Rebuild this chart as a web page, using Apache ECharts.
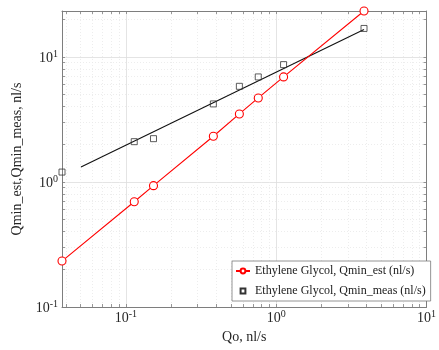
<!DOCTYPE html>
<html>
<head>
<meta charset="utf-8">
<script src="https://cdn.jsdelivr.net/npm/echarts@6/dist/echarts.min.js"></script>
<style>
  html, body { margin: 0; padding: 0; background: #fff; }
  #chart { width: 439px; height: 350px; }
</style>
</head>
<body>
<div id="chart"></div>
<script>
// Flow data, nl/s
const qo       = [0.0376, 0.1137, 0.1527, 0.382, 0.569, 0.760, 1.12, 3.84];
const qminEst  = [0.233, 0.695, 0.934, 2.32, 3.50, 4.70, 6.92, 23.3];
const qminMeas = [1.20, 2.10, 2.22, 4.21, 5.82, 6.92, 8.68, 16.9];
// power-law fit through the measured points
const fitQo   = [0.0503, 3.84];
const fitQmin = [1.32, 16.6];

const xMajor = [0.1, 1, 10];
const yMajor = [0.1, 1, 10];
const xRange = [0.0376, 10];
const yRange = [0.1, 23.3];

const FONT = '"Liberation Serif", "Times New Roman", serif';
const AXIS_COLOR = '#7e7e7e';
const TEXT_COLOR = '#262626';

// 1..9 x 10^e values that fall inside [lo, hi]
function logTicks(lo, hi) {
  const out = [];
  for (let e = -3; e <= 3; e++) {
    for (let m = 1; m <= 9; m++) {
      const v = +(m * Math.pow(10, e)).toPrecision(6);
      if (v >= lo * 0.9999 && v <= hi * 1.0001) out.push(v);
    }
  }
  return out;
}

function powLabel(v) {
  const e = Math.round(Math.log10(v));
  return '{b|10}{s|' + e + '}';
}

const labelRich = {
  b: { fontFamily: FONT, fontSize: 14, color: TEXT_COLOR, lineHeight: 16, verticalAlign: 'bottom' },
  s: { fontFamily: FONT, fontSize: 10, color: TEXT_COLOR, lineHeight: 16, verticalAlign: 'bottom', padding: [0, 0, 6, 0] }
};

function frameAxis(kind, pos, range, major, withLabels) {
  const allTicks = logTicks(range[0], range[1]);
  return {
    type: 'log',
    logBase: 10,
    position: pos,
    min: range[0],
    max: range[1],
    axisLine: { show: true, onZero: false, lineStyle: { color: AXIS_COLOR, width: 1 } },
    axisTick: { show: true, inside: true, length: 3, customValues: allTicks, lineStyle: { color: AXIS_COLOR, width: 0.8 } },
    minorTick: { show: false },
    axisLabel: withLabels ? {
      show: true,
      customValues: major,
      formatter: powLabel,
      rich: labelRich,
      margin: kind === 'x' ? 2 : 4,
      hideOverlap: false
    } : { show: false },
    splitLine: { show: false }
  };
}

function gridAxis(pos, range, values, style) {
  return {
    type: 'log',
    logBase: 10,
    position: pos,
    min: range[0],
    max: range[1],
    axisLine: { show: false },
    axisTick: { show: false, customValues: values },
    axisLabel: { show: false },
    splitLine: { show: true, lineStyle: style }
  };
}

const xMinor = logTicks(xRange[0], xRange[1]).filter(v => xMajor.indexOf(v) < 0);
const yMinor = logTicks(yRange[0], yRange[1]).filter(v => yMajor.indexOf(v) < 0);
const minorStyle = { color: '#e8e8e8', width: 0.8, type: [1, 2] };
const majorStyle = { color: '#dddddd', width: 0.8, type: 'solid' };

const xBottom = frameAxis('x', 'bottom', xRange, xMajor, true);
xBottom.name = 'Qo, nl/s';
xBottom.nameLocation = 'middle';
xBottom.nameGap = 23;
xBottom.nameTextStyle = { fontFamily: FONT, fontSize: 14, color: TEXT_COLOR };

const yLeft = frameAxis('y', 'left', yRange, yMajor, true);
yLeft.name = 'Qmin_est,Qmin_meas, nl/s';
yLeft.nameLocation = 'middle';
yLeft.nameGap = 31;
yLeft.nameRotate = 90;
yLeft.nameTextStyle = { fontFamily: FONT, fontSize: 14, color: TEXT_COLOR };

const estName = 'Ethylene Glycol, Qmin_est (nl/s)';
const measName = 'Ethylene Glycol, Qmin_meas (nl/s)';

const option = {
  backgroundColor: '#ffffff',
  animation: false,
  grid: { left: 62, right: 3, top: 11, bottom: 43, containLabel: false },
  xAxis: [
    xBottom,
    frameAxis('x', 'top', xRange, xMajor, false),
    gridAxis('bottom', xRange, xMinor, minorStyle),
    gridAxis('bottom', xRange, xMajor, majorStyle)
  ],
  yAxis: [
    yLeft,
    frameAxis('y', 'right', yRange, yMajor, false),
    gridAxis('left', yRange, yMinor, minorStyle),
    gridAxis('left', yRange, yMajor, majorStyle)
  ],
  legend: {
    data: [{ name: estName }, { name: measName }],
    orient: 'vertical',
    left: 232,
    top: 261,
    padding: [3, 5, 3, 3],
    itemWidth: 14,
    itemHeight: 6,
    itemGap: 6,
    backgroundColor: '#ffffff',
    borderColor: '#7a7a7a',
    borderWidth: 0.8,
    borderRadius: 0,
    textStyle: { fontFamily: FONT, fontSize: 12, color: '#1a1a1a', lineHeight: 14 }
  },
  series: [
    {
      name: estName,
      type: 'line',
      xAxisIndex: 0, yAxisIndex: 0,
      data: qo.map((x, i) => [x, qminEst[i]]),
      symbol: 'circle',
      symbolSize: 8,
      showSymbol: true,
      clip: false,
      z: 4,
      lineStyle: { color: '#ff0000', width: 1.1 },
      itemStyle: { color: '#ffffff', borderColor: '#ff0000', borderWidth: 1.1 }
    },
    {
      // markers only: the connecting line is kept invisible
      name: measName,
      type: 'line',
      xAxisIndex: 0, yAxisIndex: 0,
      data: qo.map((x, i) => [x, qminMeas[i]]),
      symbol: 'rect',
      symbolSize: 6,
      showSymbol: true,
      clip: false,
      z: 3,
      lineStyle: { width: 0, opacity: 0 },
      itemStyle: { color: 'rgba(255,255,255,0)', borderColor: '#333333', borderWidth: 0.8 }
    },
    {
      name: 'fit',
      type: 'line',
      xAxisIndex: 0, yAxisIndex: 0,
      data: fitQo.map((x, i) => [x, fitQmin[i]]),
      showSymbol: false,
      symbol: 'none',
      z: 2,
      lineStyle: { color: '#111111', width: 1.1 }
    }
  ]
};

const chart = echarts.init(document.getElementById('chart'), null, { renderer: 'canvas' });
chart.setOption(option);
</script>
</body>
</html>
